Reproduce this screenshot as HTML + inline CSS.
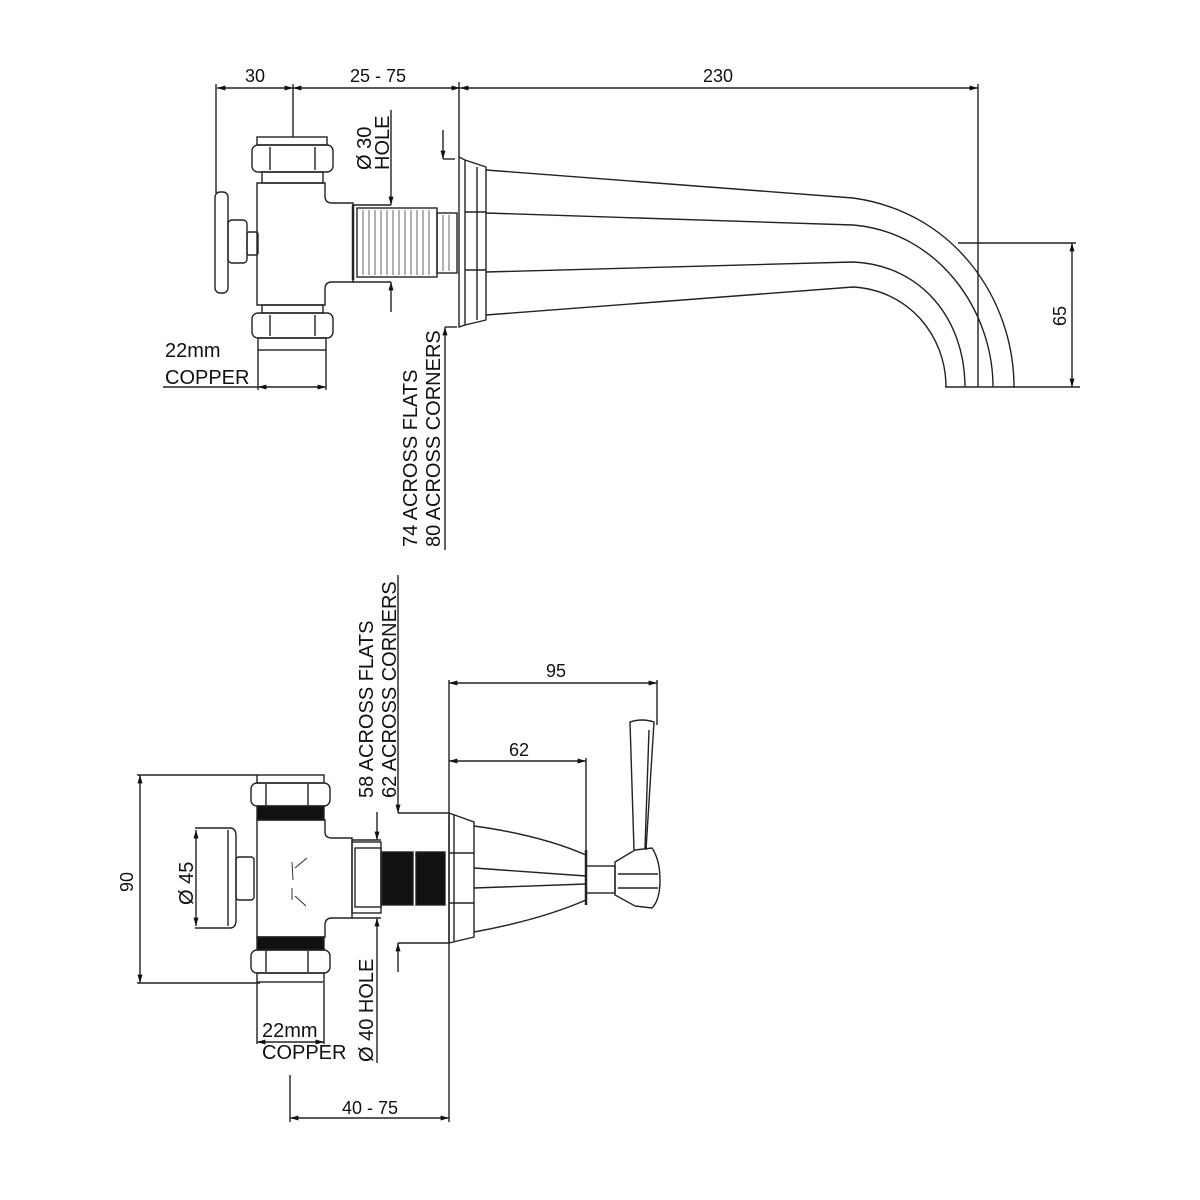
<!DOCTYPE html>
<html><head><style>
html,body{margin:0;padding:0;background:#fff}
svg{display:block}
text{font-family:"Liberation Sans",sans-serif;font-size:18px;fill:#111}
text.w{font-size:20px}
</style></head><body>
<svg width="1200" height="1200" viewBox="0 0 1200 1200" xmlns="http://www.w3.org/2000/svg">
<defs>
<marker id="a" viewBox="0 0 10 10" refX="10" refY="5" markerWidth="9" markerHeight="6" orient="auto-start-reverse"><path d="M0,2 L10,5 L0,8z" fill="#111"/></marker>
</defs>
<g stroke="#222" stroke-width="1.4" fill="none">
<line x1="217" y1="88" x2="293" y2="88" marker-start="url(#a)" marker-end="url(#a)"/>
<line x1="293" y1="88" x2="460" y2="88" marker-start="url(#a)" marker-end="url(#a)"/>
<line x1="460" y1="88" x2="978" y2="88" marker-start="url(#a)" marker-end="url(#a)"/>
<line x1="216" y1="84" x2="216" y2="193"/>
<line x1="293" y1="84" x2="293" y2="137"/>
<line x1="459" y1="82" x2="459" y2="157"/>
<line x1="978" y1="84" x2="978" y2="387"/>
<line x1="958" y1="243" x2="1076" y2="243"/>
<line x1="1013" y1="387" x2="1080" y2="387"/>
<line x1="1072" y1="243" x2="1072" y2="387" marker-start="url(#a)" marker-end="url(#a)"/>
<rect x="215" y="192" width="13" height="101" rx="5"/>
<rect x="228" y="220" width="19" height="43" rx="4"/>
<rect x="247" y="232" width="11" height="23" rx="2"/>
<path d="M257,183 H325 V196 Q325,203 332,203 H353 V282 H332 Q325,282 325,289 V305 H257 Z"/>
<rect x="257" y="137" width="70" height="8"/>
<rect x="252" y="145" width="81" height="27" rx="6"/>
<line x1="270" y1="147" x2="270" y2="170"/><line x1="315" y1="147" x2="315" y2="170"/>
<rect x="262" y="172" width="61" height="11"/>
<rect x="262" y="305" width="61" height="8"/>
<rect x="252" y="313" width="81" height="25" rx="6"/>
<line x1="270" y1="315" x2="270" y2="336"/><line x1="315" y1="315" x2="315" y2="336"/>
<rect x="258" y="338" width="68" height="12"/>
<line x1="258" y1="350" x2="258" y2="390"/><line x1="326" y1="350" x2="326" y2="390"/>
<line x1="163" y1="387" x2="258" y2="387"/>
<line x1="258" y1="387" x2="326" y2="387" marker-start="url(#a)" marker-end="url(#a)"/>
<line x1="353" y1="205" x2="353" y2="280" stroke-width="2.5"/>
<rect x="357" y="208" width="80" height="69"/>
<rect x="437" y="213" width="20" height="60"/>
<g stroke-width="0.9" stroke="#555">
<line x1="363" y1="210" x2="363" y2="275"/><line x1="369" y1="210" x2="369" y2="275"/><line x1="375" y1="210" x2="375" y2="275"/><line x1="381" y1="210" x2="381" y2="275"/><line x1="387" y1="210" x2="387" y2="275"/><line x1="393" y1="210" x2="393" y2="275"/><line x1="399" y1="210" x2="399" y2="275"/><line x1="405" y1="210" x2="405" y2="275"/><line x1="411" y1="210" x2="411" y2="275"/><line x1="417" y1="210" x2="417" y2="275"/><line x1="423" y1="210" x2="423" y2="275"/><line x1="429" y1="210" x2="429" y2="275"/><line x1="443" y1="215" x2="443" y2="271"/><line x1="449" y1="215" x2="449" y2="271"/>
</g>
<line x1="391" y1="110" x2="391" y2="205" marker-end="url(#a)"/>
<line x1="353" y1="205" x2="391" y2="205"/>
<line x1="353" y1="282" x2="391" y2="282"/>
<line x1="391" y1="312" x2="391" y2="282" marker-end="url(#a)"/>
<line x1="443" y1="130" x2="443" y2="159" marker-end="url(#a)"/>
<line x1="443" y1="159" x2="455" y2="159"/>
<line x1="445" y1="550" x2="445" y2="327" marker-end="url(#a)"/>
<line x1="445" y1="327" x2="457" y2="327"/>
<path d="M459,157 L465,160 V325 L459,327 Z"/>
<path d="M465,160 L486,167 V320 L465,325"/>
<line x1="477" y1="167" x2="477" y2="320"/>
<line x1="465" y1="212" x2="486" y2="212"/><line x1="465" y1="270" x2="486" y2="270"/>
<path d="M486,170 L853,198 C955,212 1014,300 1014,387"/>
<path d="M486,213 L853,225 C938,232 993,310 993,387"/>
<path d="M486,272 L853,262 C922,265 965,320 965,387"/>
<path d="M486,315 L853,287 C908,290 946,335 946,387"/>
<line x1="945" y1="387" x2="1014" y2="387"/>

<line x1="137" y1="775" x2="257" y2="775"/>
<line x1="137" y1="983" x2="260" y2="983"/>
<line x1="140" y1="775" x2="140" y2="983" marker-start="url(#a)" marker-end="url(#a)"/>
<rect x="257" y="775" width="67" height="8"/>
<rect x="251" y="783" width="79" height="23" rx="6"/>
<line x1="266" y1="784" x2="266" y2="805"/><line x1="308" y1="784" x2="308" y2="805"/>
<rect x="257" y="806" width="67" height="14" fill="#111"/>
<path d="M257,820 H325 V832 Q325,838 332,838 H352 V918 H332 Q325,918 325,925 V937 H257 Z"/>
<path d="M295,868 L307,858 M295,896 L306,906 M292,862 L293,880 M292,888 L292,900" stroke-width="0.9"/>
<rect x="257" y="937" width="67" height="13" fill="#111"/>
<rect x="251" y="950" width="79" height="23" rx="6"/>
<line x1="266" y1="951" x2="266" y2="972"/><line x1="308" y1="951" x2="308" y2="972"/>
<rect x="257" y="973" width="67" height="9"/>
<path d="M195,828 H230 Q236,828 236,836 V920 Q236,928 230,928 H195"/>
<line x1="228" y1="830" x2="228" y2="926"/>
<line x1="196" y1="830" x2="196" y2="926" marker-start="url(#a)" marker-end="url(#a)"/>
<rect x="236" y="857" width="18" height="43" rx="3"/>
<rect x="352" y="842" width="29" height="71"/>
<rect x="355" y="848" width="26" height="59"/>
<rect x="382" y="852" width="31" height="53" fill="#111"/>
<rect x="416" y="852" width="29" height="53" fill="#111"/>
<path d="M449,813 L474,822 V937 L449,943 Z"/>
<line x1="454" y1="815" x2="454" y2="941"/>
<line x1="449" y1="853" x2="474" y2="853"/><line x1="449" y1="903" x2="474" y2="903"/>
<path d="M474,826 Q540,835 586,855 V900 Q540,920 474,932"/>
<line x1="474" y1="868" x2="586" y2="876"/>
<line x1="474" y1="888" x2="586" y2="884"/>
<line x1="586" y1="850" x2="586" y2="905" stroke-width="2.5"/>
<rect x="586" y="866" width="29" height="27"/>
<path d="M615,862 L635,850 L652,848 Q660,860 660,880 Q660,900 652,908 L635,906 L615,895 Z"/>
<line x1="618" y1="874" x2="658" y2="874"/><line x1="618" y1="888" x2="658" y2="888"/>
<path d="M634,850 L630,722 Q642,718 654,722 L646,850" />
<line x1="649" y1="730" x2="645" y2="848"/>
<line x1="449" y1="680" x2="449" y2="1122"/>
<line x1="657" y1="680" x2="657" y2="725"/>
<line x1="449" y1="683" x2="657" y2="683" marker-start="url(#a)" marker-end="url(#a)"/>
<line x1="586" y1="758" x2="586" y2="850"/>
<line x1="449" y1="761" x2="586" y2="761" marker-start="url(#a)" marker-end="url(#a)"/>
<line x1="398" y1="575" x2="398" y2="813" marker-end="url(#a)"/>
<line x1="398" y1="813" x2="449" y2="813"/>
<line x1="377" y1="812" x2="377" y2="840" marker-end="url(#a)"/>
<line x1="352" y1="840" x2="381" y2="840"/>
<line x1="352" y1="918" x2="381" y2="918"/>
<line x1="377" y1="1063" x2="377" y2="918" marker-end="url(#a)"/>
<line x1="398" y1="943" x2="449" y2="943"/>
<line x1="398" y1="972" x2="398" y2="943" marker-end="url(#a)"/>
<line x1="257" y1="983" x2="257" y2="1044"/><line x1="324" y1="983" x2="324" y2="1044"/>
<line x1="257" y1="1042" x2="324" y2="1042" marker-start="url(#a)" marker-end="url(#a)"/>
<line x1="290" y1="1075" x2="290" y2="1122"/>
<line x1="290" y1="1118" x2="449" y2="1118" marker-start="url(#a)" marker-end="url(#a)"/>
</g>
<text x="255" y="82" text-anchor="middle">30</text>
<text x="378" y="82" text-anchor="middle">25 - 75</text>
<text x="718" y="82" text-anchor="middle">230</text>
<text x="1066" y="316" text-anchor="middle" transform="rotate(-90 1066 316)">65</text>
<text class="w" x="165" y="357">22mm</text>
<text class="w" x="165" y="384">COPPER</text>
<text class="w" transform="translate(371,170) rotate(-90)">Ø 30</text>
<text class="w" transform="translate(389,170) rotate(-90)">HOLE</text>
<text class="w" transform="translate(417,547) rotate(-90)">74 ACROSS FLATS</text>
<text class="w" transform="translate(440,547) rotate(-90)">80 ACROSS CORNERS</text>
<text x="556" y="677" text-anchor="middle">95</text>
<text x="519" y="756" text-anchor="middle">62</text>
<text class="w" transform="translate(373,798) rotate(-90)">58 ACROSS FLATS</text>
<text class="w" transform="translate(396,798) rotate(-90)">62 ACROSS CORNERS</text>
<text transform="translate(133,892) rotate(-90)">90</text>
<text class="w" transform="translate(193,905) rotate(-90)">Ø 45</text>
<text class="w" transform="translate(373,1062) rotate(-90)">Ø 40 HOLE</text>
<text class="w" x="262" y="1037">22mm</text>
<text class="w" x="262" y="1059">COPPER</text>
<text x="370" y="1114" text-anchor="middle">40 - 75</text>
</svg>
</body></html>
